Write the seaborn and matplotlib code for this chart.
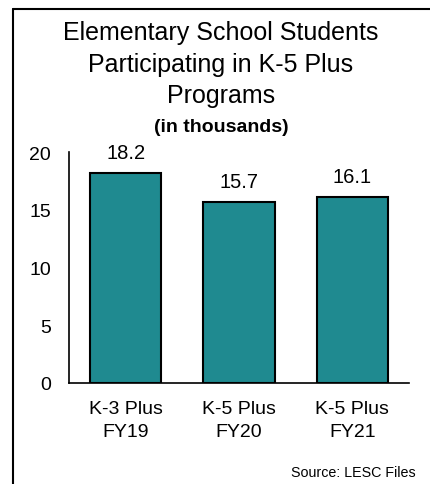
import matplotlib
matplotlib.use("Agg")
import matplotlib.pyplot as plt
import seaborn as sns
import pandas as pd
from matplotlib.lines import Line2D

categories = ["K-3 Plus\nFY19", "K-5 Plus\nFY20", "K-5 Plus\nFY21"]
values = [18.2, 15.7, 16.1]
yticks = [0, 5, 10, 15, 20]
title_lines = ["Elementary School Students", "Participating in K-5 Plus", "Programs"]

sns.set_style("white")
plt.rcParams['font.family'] = ['Liberation Sans', 'DejaVu Sans']
plt.rcParams['text.color'] = 'black'
plt.rcParams['xtick.color'] = 'black'
plt.rcParams['ytick.color'] = 'black'

df = pd.DataFrame({"program": categories, "students": values})

fig = plt.figure(figsize=(4.3, 4.85), dpi=100)
ax = fig.add_axes([69/430, 1-384/485, 340/430, 231/485])

sns.barplot(data=df, x="program", y="students", ax=ax, color="#1F8A90",
            saturation=1, width=0.63, edgecolor="black", linewidth=1.5)

ax.set_ylim(0, 20)
ax.set_xlim(-0.5, 2.5)
ax.set_yticks(yticks)
ax.set_yticklabels([str(t) for t in yticks], fontsize=14)
ax.tick_params(axis="y", length=0, pad=13)
ax.tick_params(axis="x", length=0, pad=12, labelsize=14)
for lab in ax.get_xticklabels():
    lab.set_linespacing(1.45)
ax.set_xlabel("")
ax.set_ylabel("")
for s in ["top", "right"]:
    ax.spines[s].set_visible(False)
for s in ["left", "bottom"]:
    ax.spines[s].set_color("black")
    ax.spines[s].set_linewidth(1.2)

for c in ax.containers:
    ax.bar_label(c, labels=[f"{v:.1f}" for v in values], padding=8, fontsize=14.5)

cx = 221 / 430
for ypix, line in zip([33, 65, 96], title_lines):
    fig.text(cx, 1 - ypix/485, line, ha="center", va="center", fontsize=18)
fig.text(cx, 1 - 128/485, "(in thousands)", ha="center", va="center",
         fontsize=14, fontweight="bold")
fig.text(416/430, 1 - 473/485, "Source: LESC Files", ha="right", va="center", fontsize=10.3)

fig.add_artist(Line2D([13/430, 13/430], [0, 1 - 10/485], transform=fig.transFigure, color="black", linewidth=1.5))
fig.add_artist(Line2D([13/430, 1], [1 - 10/485, 1 - 10/485], transform=fig.transFigure, color="black", linewidth=1.5))

fig.savefig("out.png", dpi=100)
